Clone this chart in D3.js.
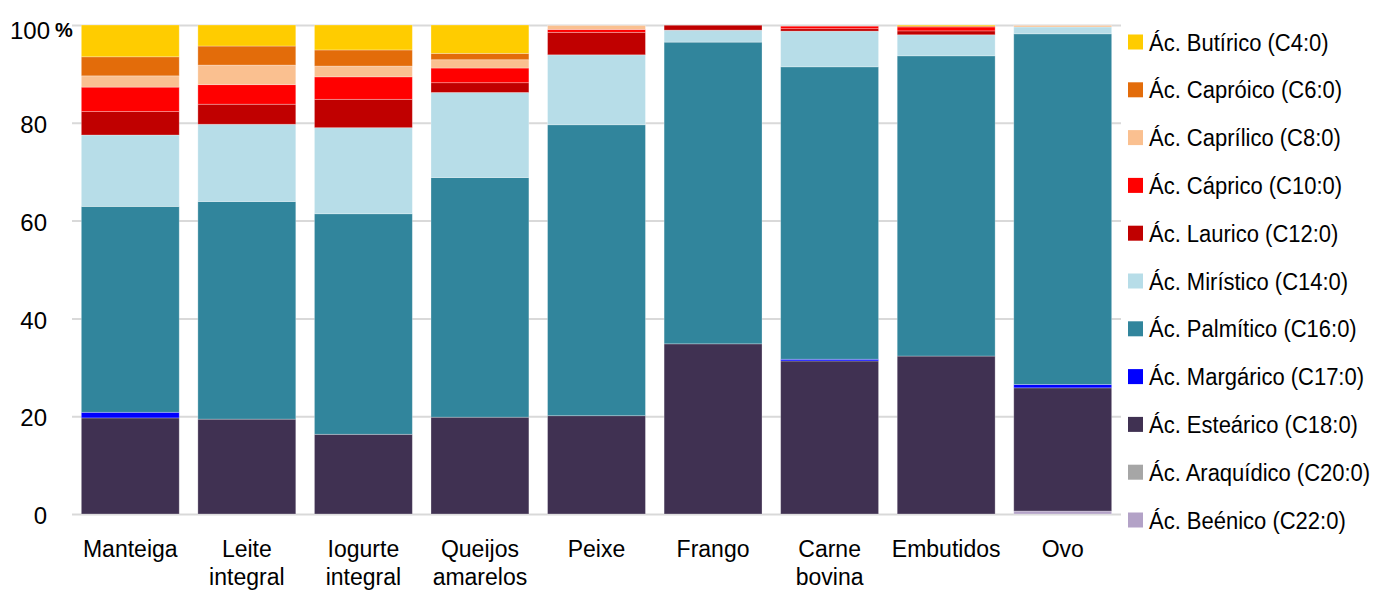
<!DOCTYPE html>
<html>
<head>
<meta charset="utf-8">
<script src="https://cdn.jsdelivr.net/npm/d3@7"></script>
<style>
  body { margin: 0; background: #fff; }
  text { font-family: "Liberation Sans", Arial, sans-serif; fill: #000; }
</style>
</head>
<body>
<div id="chart"></div>
<script>
// Data
const categories = ['Manteiga', 'Leite integral', 'Iogurte integral', 'Queijos amarelos',
  'Peixe', 'Frango', 'Carne bovina', 'Embutidos', 'Ovo']
const categoryLines = [['Manteiga'], ['Leite', 'integral'], ['Iogurte', 'integral'],
  ['Queijos', 'amarelos'], ['Peixe'], ['Frango'], ['Carne', 'bovina'], ['Embutidos'], ['Ovo']]

const butirico   = [6.5, 4.3, 5.1, 5.8, 0, 0, 0, 0.2, 0]
const caproico   = [3.9, 3.9, 3.3, 1.3, 0, 0, 0, 0.2, 0]
const caprilico  = [2.3, 4.0, 2.2, 1.7, 0.8, 0, 0, 0, 0.3]
const caprico    = [5.0, 4.0, 4.6, 3.0, 0.6, 0, 0.5, 0.8, 0]
const laurico    = [4.8, 4.1, 5.8, 2.0, 4.6, 1.0, 0.5, 0.8, 0]
const miristico  = [14.6, 15.8, 17.6, 17.4, 14.3, 2.45, 7.3, 4.3, 1.4]
const palmitico  = [42.1, 44.5, 45.1, 49.0, 59.5, 61.7, 59.8, 61.4, 71.7]
const margarico  = [1.15, 0, 0, 0, 0, 0, 0.35, 0, 0.7]
const estearico  = [19.65, 19.4, 16.3, 19.8, 20.1, 34.8, 31.3, 32.3, 25.2]
const araquidico = [0, 0, 0, 0, 0, 0, 0, 0, 0]
const beenico    = [0, 0, 0, 0, 0, 0, 0, 0, 0.6]

const yTicks = [0, 20, 40, 60, 80, 100]

// stacking order: bottom first
const series = [
  { key: 'Ác. Beénico (C22:0)', values: beenico, color: '#b3a2c7' },
  { key: 'Ác. Araquídico (C20:0)', values: araquidico, color: '#a6a6a6' },
  { key: 'Ác. Esteárico (C18:0)', values: estearico, color: '#403152' },
  { key: 'Ác. Margárico (C17:0)', values: margarico, color: '#0000ff' },
  { key: 'Ác. Palmítico (C16:0)', values: palmitico, color: '#31859c' },
  { key: 'Ác. Mirístico (C14:0)', values: miristico, color: '#b7dde8' },
  { key: 'Ác. Laurico (C12:0)', values: laurico, color: '#c00000' },
  { key: 'Ác. Cáprico (C10:0)', values: caprico, color: '#ff0000' },
  { key: 'Ác. Caprílico (C8:0)', values: caprilico, color: '#fac090' },
  { key: 'Ác. Capróico (C6:0)', values: caproico, color: '#e36c0a' },
  { key: 'Ác. Butírico (C4:0)', values: butirico, color: '#ffcc00' }
]

const table = categories.map((c, i) => {
  const row = { category: c }
  series.forEach(s => { row[s.key] = s.values[i] })
  return row
})

// Dimensions
const dims = { width: 1385, height: 594, left: 72, right: 1121, top: 25, bottom: 514 }

const svg = d3.select('#chart')
  .append('svg')
  .attr('width', dims.width)
  .attr('height', dims.height)

const xScale = d3.scaleBand()
  .domain(categories)
  .range([dims.left, dims.right])
  .paddingInner(0.16)
  .paddingOuter(0.08)

const yScale = d3.scaleLinear()
  .domain([0, 100])
  .range([dims.bottom, dims.top])

// Gridlines + tick labels
const yAxis = d3.axisLeft(yScale)
  .tickValues(yTicks)
  .tickSize(-(dims.right - dims.left))
  .tickFormat(d3.format('d'))

const yAxisGroup = svg.append('g')
  .attr('transform', `translate(${dims.left},0)`)
  .call(yAxis)

yAxisGroup.select('.domain').remove()
yAxisGroup.selectAll('line')
  .attr('stroke', '#d9d9d9')
  .attr('stroke-width', 2)
yAxisGroup.selectAll('text')
  .attr('x', -25)
  .attr('dy', '0.4em')
  .style('font-size', '24px')
  .style('font-family', '"Liberation Sans", Arial, sans-serif')
yAxisGroup.selectAll('.tick')
  .filter(d => d === 100)
  .select('text')
  .attr('dy', '0.55em')
  .attr('x', -22)

svg.append('text')
  .attr('x', 55)
  .attr('y', yScale(100) + 12)
  .style('font-size', '20px')
  .style('font-weight', 'bold')
  .text('%')

// Bars
const stacked = d3.stack().keys(series.map(s => s.key))(table)

svg.append('g')
  .selectAll('g')
  .data(stacked)
  .join('g')
  .attr('fill', (d, i) => series[i].color)
  .selectAll('rect')
  .data(d => d)
  .join('rect')
  .attr('x', d => xScale(d.data.category))
  .attr('width', xScale.bandwidth())
  .attr('y', d => yScale(d[1]))
  .attr('height', d => yScale(d[0]) - yScale(d[1]))
  .attr('stroke', 'rgba(255,255,255,0.35)')
  .attr('stroke-width', 0.8)

// Category labels
const xLabels = svg.append('g')
  .selectAll('text')
  .data(categories)
  .join('text')
  .attr('text-anchor', 'middle')
  .attr('x', d => xScale(d) + xScale.bandwidth() / 2)
  .attr('y', 557)
  .style('font-size', '23px')

xLabels.selectAll('tspan')
  .data((d, i) => categoryLines[i])
  .join('tspan')
  .attr('x', function() { return d3.select(this.parentNode).attr('x') })
  .attr('dy', (d, i) => i === 0 ? 0 : 28)
  .text(d => d)

// Legend (top to bottom: reverse of stacking)
const legendItems = series.slice().reverse()
const legend = svg.append('g')
  .selectAll('g')
  .data(legendItems)
  .join('g')
  .attr('transform', (d, i) => `translate(1128, ${42 + i * 47.8})`)

legend.append('rect')
  .attr('x', 0)
  .attr('y', -7.5)
  .attr('width', 15)
  .attr('height', 15)
  .attr('fill', d => d.color)

legend.append('text')
  .attr('transform', 'translate(21, 8.5) scale(1, 1.1)')
  .style('font-size', '22px')
  .text(d => d.key)
</script>
</body>
</html>
